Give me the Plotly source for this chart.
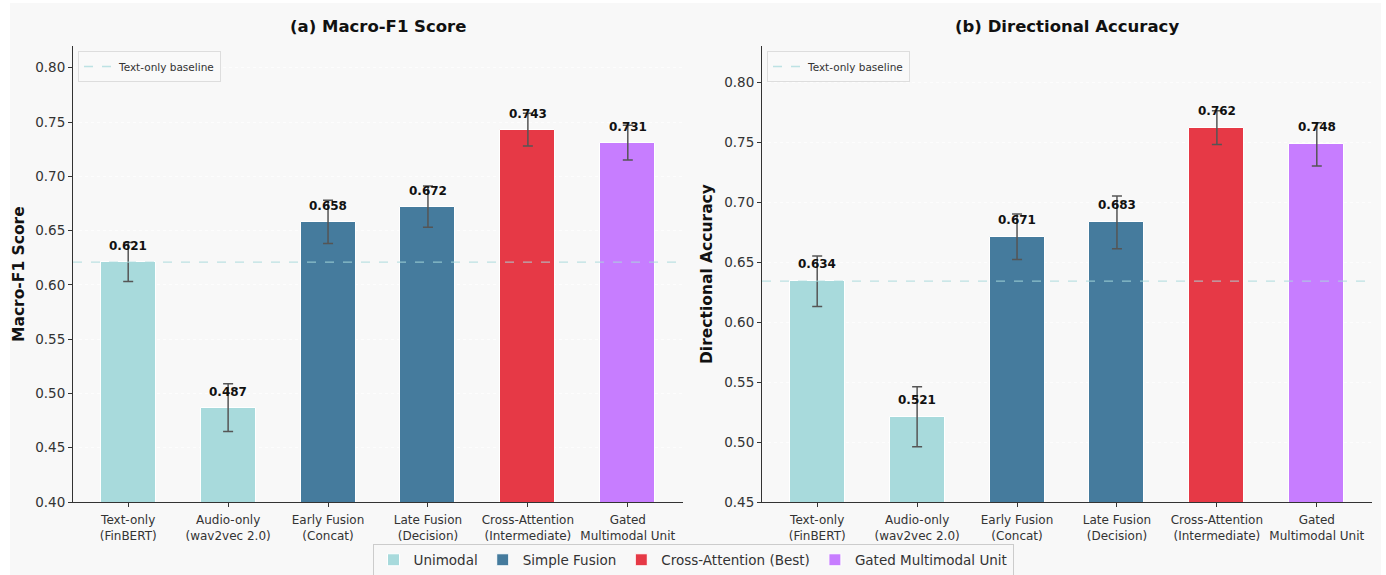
import plotly.graph_objects as go

categories = ["Text-only<br>(FinBERT)", "Audio-only<br>(wav2vec 2.0)", "Early Fusion<br>(Concat)",
              "Late Fusion<br>(Decision)", "Cross-Attention<br>(Intermediate)", "Gated<br>Multimodal Unit"]
groups = ["Unimodal", "Unimodal", "Simple Fusion", "Simple Fusion", "Cross-Attention (Best)", "Gated Multimodal Unit"]
group_names = ["Unimodal", "Simple Fusion", "Cross-Attention (Best)", "Gated Multimodal Unit"]
group_colors = {"Unimodal": "#a8dadc", "Simple Fusion": "#457b9d",
                "Cross-Attention (Best)": "#e63946", "Gated Multimodal Unit": "#c77dff"}

f1_mean = [0.621, 0.487, 0.658, 0.672, 0.743, 0.731]
f1_std = [0.018, 0.022, 0.020, 0.019, 0.015, 0.016]
acc_mean = [0.634, 0.521, 0.671, 0.683, 0.762, 0.748]
acc_std = [0.021, 0.025, 0.019, 0.022, 0.014, 0.018]

panel_titles = ["(a) Macro-F1 Score", "(b) Directional Accuracy"]
y_titles = ["Macro-F1 Score", "Directional Accuracy"]
y_ranges = [[0.40, 0.82], [0.45, 0.83]]

W, H = 1386, 575
ml, mr, mt, mb = 73, 14, 46, 73
pw = W - ml - mr
ph = H - mt - mb

def px_x(p):
    return (p - ml) / pw

def px_y(p):
    return (H - mb - p) / ph

dom1 = [0, px_x(683)]
dom2 = [px_x(762), 1]

FONT = "DejaVu Sans"
xpos = list(range(len(categories)))
xr = [-0.5525, len(categories) - 1 + 0.5525]

fig = go.Figure()

panels = [(f1_mean, f1_std, "x", "y", "legend2"), (acc_mean, acc_std, "x2", "y2", "legend3")]
for pi, (means, stds, xa, ya, lg) in enumerate(panels):
    for g in group_names:
        idx = [i for i, gg in enumerate(groups) if gg == g]
        fig.add_trace(go.Bar(
            x=[xpos[i] for i in idx], y=[means[i] for i in idx],
            width=0.55, marker=dict(color=group_colors[g], line=dict(color="white", width=1)),
            error_y=dict(type="data", array=[stds[i] for i in idx], color="#555555",
                         thickness=1.5, width=5),
            name=g, legend="legend", showlegend=(pi == 0),
            xaxis=xa, yaxis=ya, hoverinfo="skip"))
    fig.add_trace(go.Scatter(
        x=xr, y=[means[0], means[0]], mode="lines",
        line=dict(color="#a8dadc", dash="dash", width=1.3), opacity=0.75,
        name="Text-only baseline", legend=lg, showlegend=True,
        xaxis=xa, yaxis=ya, hoverinfo="skip"))
    for i, (m, s) in enumerate(zip(means, stds)):
        fig.add_annotation(x=xpos[i], y=m + 0.01, xref=xa, yref=ya, text="<b>%.3f</b>" % m,
                           showarrow=False, yanchor="bottom", yshift=-4,
                           font=dict(family=FONT, size=12, color="#111111"))

axis_common = dict(showline=True, linecolor="#333333", linewidth=1, ticks="outside",
                   ticklen=4, tickcolor="#333333", mirror=False, zeroline=False,
                   tickfont=dict(family=FONT, size=13.5, color="#333333"))

for k, dom in enumerate([dom1, dom2]):
    xs = "xaxis" if k == 0 else "xaxis2"
    ys = "yaxis" if k == 0 else "yaxis2"
    fig.layout[xs] = dict(domain=dom, range=xr, tickmode="array", tickvals=xpos, ticktext=categories,
                          showgrid=False, anchor="y" if k == 0 else "y2", ticklabelstandoff=3,
                          **{**axis_common, "tickfont": dict(family=FONT, size=12, color="#333333")})
    fig.layout[ys] = dict(domain=[0, 1], range=y_ranges[k], dtick=0.05, tickformat=".2f",
                          showgrid=True, gridcolor="rgba(255,255,255,0.7)", griddash="dot",
                          gridwidth=1, anchor="x" if k == 0 else "x2", **axis_common)
    cx = (dom[0] + dom[1]) / 2
    fig.add_annotation(x=cx, y=px_y(27), xref="paper", yref="paper", text="<b>%s</b>" % panel_titles[k],
                       showarrow=False, font=dict(family=FONT, size=16.5, color="#111111"),
                       xanchor="center", yanchor="middle")
    fig.add_annotation(x=px_x(19 if k == 0 else 707), y=px_y(274), xref="paper", yref="paper",
                       text="<b>%s</b>" % y_titles[k], textangle=-90, showarrow=False,
                       font=dict(family=FONT, size=15.5, color="#111111"),
                       xanchor="center", yanchor="middle")

fig.add_shape(type="rect", xref="paper", yref="paper", x0=px_x(10), x1=px_x(1381),
              y0=px_y(576), y1=px_y(3), fillcolor="#f8f8f8", line=dict(width=0), layer="below")

fig.update_layout(
    width=W, height=H,
    margin=dict(l=ml, r=mr, t=mt, b=mb, autoexpand=False),
    paper_bgcolor="white", plot_bgcolor="#f3f3f3",
    barmode="overlay", bargap=0,
    font=dict(family=FONT, color="#333333"),
    legend=dict(orientation="h", x=0.5, xref="container", xanchor="center",
                y=px_y(560), yanchor="middle",
                bgcolor="#f8f8f8", bordercolor="#cccccc", borderwidth=1,
                font=dict(family=FONT, size=13.5, color="#333333"),
                itemwidth=30, traceorder="normal"),
    legend2=dict(x=px_x(78), y=px_y(51), xanchor="left", yanchor="top",
                 bgcolor="rgba(248,248,248,0.9)", bordercolor="#dddddd", borderwidth=1,
                 itemwidth=30, font=dict(family=FONT, size=10.5, color="#333333")),
    legend3=dict(x=px_x(767), y=px_y(51), xanchor="left", yanchor="top",
                 bgcolor="rgba(248,248,248,0.9)", bordercolor="#dddddd", borderwidth=1,
                 itemwidth=30, font=dict(family=FONT, size=10.5, color="#333333")),
    showlegend=True,
)

fig.write_html("out.html")
